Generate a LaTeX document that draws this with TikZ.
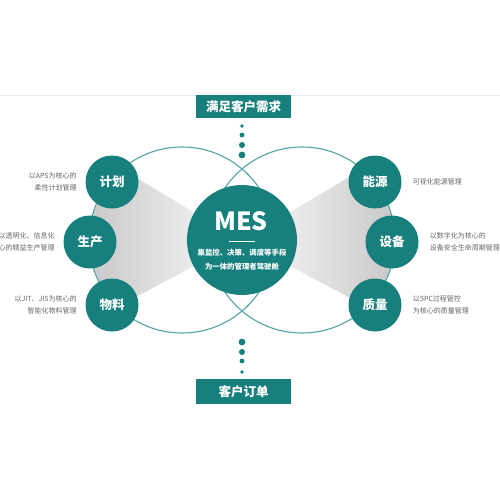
\documentclass[tikz,border=0pt]{standalone}
\usepackage{fontspec}
\setmainfont{Noto Sans CJK SC}
\usetikzlibrary{positioning}
\definecolor{mesteal}{HTML}{17807D}
\definecolor{ringteal}{HTML}{52A6A2}
\definecolor{notegray}{HTML}{666666}
\definecolor{rulegray}{HTML}{E4ECF3}

\begin{document}
\begin{tikzpicture}[x=1pt,y=-1pt,
    ring/.style={draw=ringteal,line width=1.1pt},
    unit/.style={circle,fill=mesteal,minimum size=53pt,inner sep=0pt,text=white,font=\fontsize{12.5}{14}\selectfont\bfseries},
    note/.style={text=notegray,inner sep=0pt,font=\fontsize{7}{12}\selectfont},
    tagbox/.style={fill=mesteal,text=white,minimum width=95pt,inner sep=0pt,font=\fontsize{12.5}{14}\selectfont\bfseries}]
    \useasboundingbox(0,0)rectangle(500,500);
    \fill[white](0,0)rectangle(500,500);
    \draw[rulegray,line width=.8pt](0,95)--(500,95);
    % grey wedges behind the rings
    \begin{scope}
      \clip(182,240)circle(93);
      \shade[left color=black!25,right color=black!5](60,132)--(215,225)--(215,255)--(60,337)--cycle;
    \end{scope}
    \begin{scope}
      \clip(302,240)circle(93);
      \shade[left color=black!5,right color=black!25](424,132)--(269,225)--(269,255)--(424,337)--cycle;
    \end{scope}
    \draw[ring](182,240)circle(93)(302,240)circle(93);
    % centre
    \node[circle,fill=mesteal,minimum size=110pt](mes)at(242,240){};
    \node[text=white,font=\fontsize{25}{28}\selectfont\bfseries](mestitle)at(241,221){MES};
    \draw[white,line width=1pt](229,241)--(255,241);
    \node[text=white,align=center,font=\fontsize{7.4}{14}\selectfont\bfseries](mesnote)at(242,260){集监控、决策、调度等手段\\为一体的管理者驾驶舱};
    % units on the rings
    \node[unit](plan)at(112,182){计划};
    \node[unit](prod)at(90,242){生产};
    \node[unit](matl)at(112,305){物料};
    \node[unit](energy)at(375,182){能源};
    \node[unit](equip)at(392,242){设备};
    \node[unit](qual)at(375,305){质量};
    \node[note,align=right,left=8.5pt of plan]{以APS为核心的\\柔性计划管理};
    \node[note,align=right,left=8.5pt of prod]{以透明化、信息化\\为核心的精益生产管理};
    \node[note,align=right,left=8.5pt of matl]{以JIT、JIS为核心的\\智能化物料管理};
    \node[note,align=left,right=11pt of energy]{可视化能源管理};
    \node[note,align=left,right=11pt of equip]{以数字化为核心的\\设备安全生命周期管理};
    \node[note,align=left,right=11pt of qual]{以SPC过程管控\\为核心的质量管理};
    % top and bottom
    \node[tagbox,minimum height=23pt](need)at(243.5,106.5){满足客户需求};
    \node[tagbox,minimum height=25pt](order)at(243.5,391.5){客户订单};
    \foreach\y/\r in{126/1.8,135/2.4,145/3,155/3.4,342/3.4,352/3,361/2.4,372/1.8}
    \fill[mesteal](242,\y)circle(\r);
  \end{tikzpicture}
\end{document}
